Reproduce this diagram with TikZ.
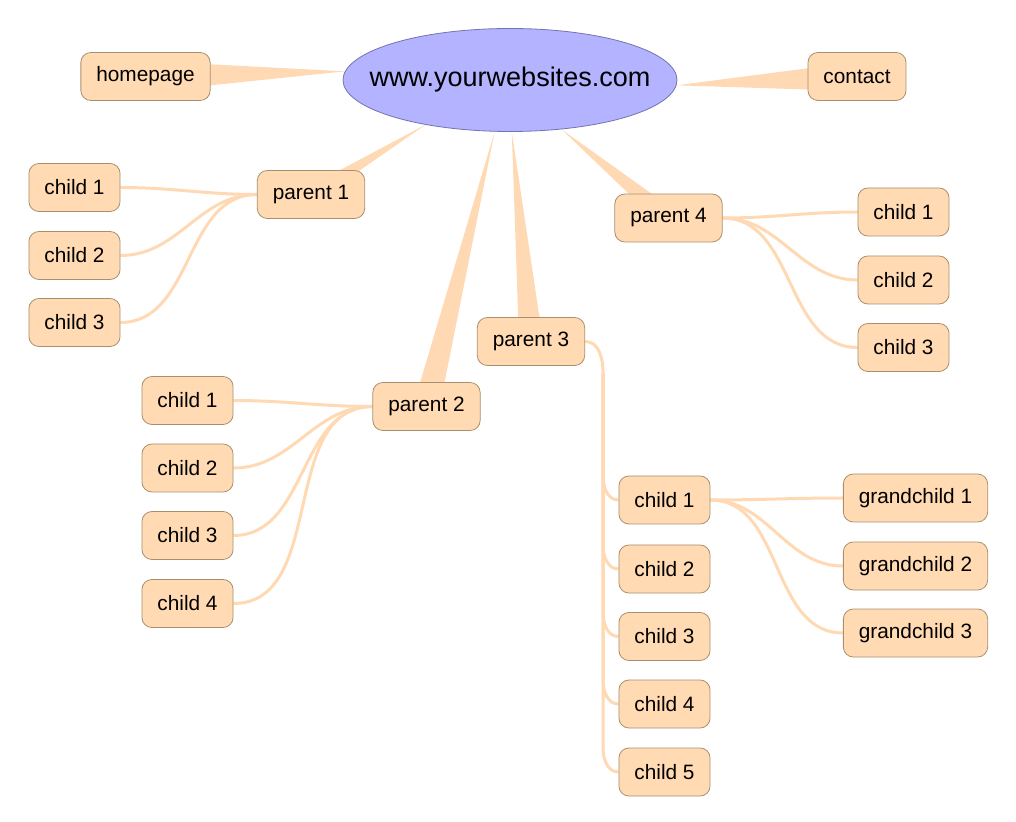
\documentclass[tikz,border=0pt]{standalone}
\usepackage{fontspec}
\setmainfont{Liberation Sans}
\usetikzlibrary{calc,backgrounds,shapes.geometric}
\definecolor{peach}{HTML}{FFDAB2}
\definecolor{peachline}{HTML}{FFD9B3}
\definecolor{boxrim}{HTML}{A8906E}
\definecolor{lilac}{HTML}{B3B3FF}
\definecolor{lilacrim}{HTML}{7373B0}
\tikzset{
  topic/.style={ellipse, draw=lilacrim, fill=lilac, minimum width=167pt,
    minimum height=51.5pt, inner sep=0pt, font=\fontsize{13.5}{16}\selectfont},
  item/.style={rectangle, rounded corners=5pt, draw=boxrim, fill=peach,
    minimum height=24pt, inner xsep=7.75pt, inner ysep=0pt,
    font=\fontsize{10.4}{12}\selectfont},
  twig/.style={draw=peachline, line width=1.5pt},
  stem/.style={fill=peachline}
}

\begin{document}
\begin{tikzpicture}[x=0.5pt, y=0.5pt]
  \useasboundingbox (0,0) rectangle (1016,-822);

  \node[topic] (web) at (510,-80) {\makebox[0pt]{www.yourwebsites.com}};
  \node[item] (home) at (145.5,-76.5) {homepage};
  \node[item] (contact) at (857,-76.5) {contact};

  \node[item] (P1) at (311,-194.5) {parent 1};
  \node[item] (P1a) at (74.5,-187.5) {child 1};
  \node[item] (P1b) at (74.5,-255.5) {child 2};
  \node[item] (P1c) at (74.5,-322.5) {child 3};

  \node[item] (P2) at (426.5,-406.5) {parent 2};
  \node[item] (P2a) at (187.5,-400.5) {child 1};
  \node[item] (P2b) at (187.5,-468) {child 2};
  \node[item] (P2c) at (187.5,-535.5) {child 3};
  \node[item] (P2d) at (187.5,-603.5) {child 4};

  \node[item] (P3) at (531,-341.5) {parent 3};
  \node[item] (P3a) at (664.5,-500) {child 1};
  \node[item] (P3b) at (664.5,-569) {child 2};
  \node[item] (P3c) at (664.5,-636.5) {child 3};
  \node[item] (P3d) at (664.5,-704) {child 4};
  \node[item] (P3e) at (664.5,-772) {child 5};

  \node[item] (G1) at (915.5,-498) {grandchild 1};
  \node[item] (G2) at (915.5,-566) {grandchild 2};
  \node[item] (G3) at (915.5,-633) {grandchild 3};

  \node[item] (P4) at (668.5,-218) {parent 4};
  \node[item] (P4a) at (903.5,-212) {child 1};
  \node[item] (P4b) at (903.5,-280) {child 2};
  \node[item] (P4c) at (903.5,-347.5) {child 3};

  \begin{scope}[on background layer]
    % tapered stems from the centre
    \fill[stem] (web) -- ($(home.center)!7.8pt!90:(web)$) -- ($(home.center)!7.8pt!-90:(web)$) -- cycle;
    \fill[stem] (web) -- ($(contact.center)!7.3pt!90:(web)$) -- ($(contact.center)!7.3pt!-90:(web)$) -- cycle;
    \fill[stem] (web) -- ($(P1.center)!4pt!90:(web)$) -- ($(P1.center)!4pt!-90:(web)$) -- cycle;
    \fill[stem] (web) -- ($(P2.center)!6.5pt!90:(web)$) -- ($(P2.center)!6.5pt!-90:(web)$) -- cycle;
    \fill[stem] (web) -- ($(P3.center)!6pt!90:(web)$) -- ($(P3.center)!6pt!-90:(web)$) -- cycle;
    \fill[stem] (web) -- ($(P4.center)!5pt!90:(web)$) -- ($(P4.center)!5pt!-90:(web)$) -- cycle;

    % branches
    \draw[twig] (P1.west) to[out=180,in=0] (P1a.east);
    \draw[twig] (P1.west) to[out=180,in=0] (P1b.east);
    \draw[twig] (P1.west) to[out=180,in=0] (P1c.east);

    \draw[twig] (P2.west) to[out=180,in=0] (P2a.east);
    \draw[twig] (P2.west) to[out=180,in=0] (P2b.east);
    \draw[twig] (P2.west) to[out=180,in=0] (P2c.east);
    \draw[twig] (P2.west) to[out=180,in=0] (P2d.east);

    \draw[twig] (P4.east) to[out=0,in=180] (P4a.west);
    \draw[twig] (P4.east) to[out=0,in=180] (P4b.west);
    \draw[twig] (P4.east) to[out=0,in=180] (P4c.west);

    \draw[twig] (P3a.east) to[out=0,in=180] (G1.west);
    \draw[twig] (P3a.east) to[out=0,in=180] (G2.west);
    \draw[twig] (P3a.east) to[out=0,in=180] (G3.west);

    % trunk of parent 3
    \draw[twig] (P3.east) to[out=0,in=90] ++(18,-32) coordinate (T)
      -- ($(T |- P3a.west)+(0,24)$) to[out=-90,in=180] (P3a.west);
    \draw[twig] (T) -- ($(T |- P3b.west)+(0,24)$) to[out=-90,in=180] (P3b.west);
    \draw[twig] (T) -- ($(T |- P3c.west)+(0,24)$) to[out=-90,in=180] (P3c.west);
    \draw[twig] (T) -- ($(T |- P3d.west)+(0,24)$) to[out=-90,in=180] (P3d.west);
    \draw[twig] (T) -- ($(T |- P3e.west)+(0,24)$) to[out=-90,in=180] (P3e.west);
  \end{scope}
\end{tikzpicture}
\end{document}
